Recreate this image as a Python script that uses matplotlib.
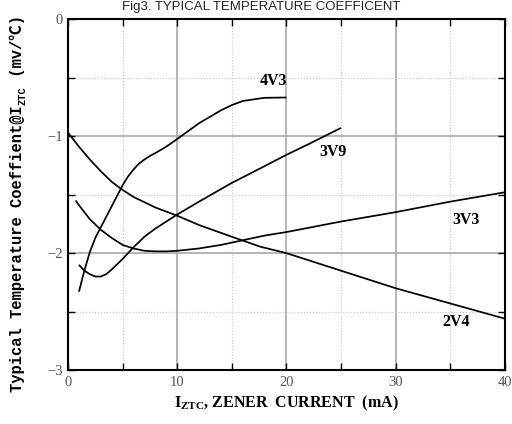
import matplotlib
matplotlib.use("Agg")
import matplotlib.pyplot as plt
from matplotlib.ticker import MultipleLocator

# ---- data ----
x_2v4 = [0, 1, 2, 3, 4, 5, 6, 8, 10, 12, 15, 17.6, 20, 25, 30, 35, 40]
y_2v4 = [-0.97, -1.09, -1.20, -1.30, -1.39, -1.46, -1.52, -1.61, -1.68, -1.76,
         -1.86, -1.945, -2.0, -2.15, -2.30, -2.43, -2.56]

x_3v3 = [0.7, 1, 2, 3, 4, 5, 6, 7, 8, 9, 10, 12, 14, 16, 18, 20, 25, 30, 35, 40]
y_3v3 = [-1.55, -1.59, -1.71, -1.80, -1.87, -1.93, -1.96, -1.98, -1.985, -1.985,
         -1.98, -1.96, -1.93, -1.89, -1.85, -1.82, -1.73, -1.65, -1.56, -1.48]

x_3v9 = [1, 1.5, 2, 2.5, 3, 3.5, 4, 5, 6, 7, 8, 10, 12, 15, 17.6, 20, 22, 25]
y_3v9 = [-2.10, -2.15, -2.18, -2.20, -2.20, -2.18, -2.14, -2.05, -1.95, -1.86,
         -1.79, -1.67, -1.56, -1.40, -1.276, -1.16, -1.07, -0.93]

x_4v3 = [1, 1.5, 2, 2.5, 3, 3.5, 4, 4.5, 5, 5.5, 6, 6.5, 7, 7.5, 8, 9, 10,
         12, 13, 14, 15, 16, 17.6, 18, 20]
y_4v3 = [-2.33, -2.15, -1.99, -1.87, -1.78, -1.69, -1.60, -1.51, -1.42, -1.345,
         -1.285, -1.235, -1.20, -1.17, -1.145, -1.09, -1.025, -0.89, -0.835,
         -0.78, -0.735, -0.70, -0.678, -0.673, -0.67]

series = [("2V4", x_2v4, y_2v4), ("3V3", x_3v3, y_3v3),
          ("3V9", x_3v9, y_3v9), ("4V3", x_4v3, y_4v3)]

labels = ["4V3", "3V9", "3V3", "2V4"]
label_x = [18.8, 24.3, 36.4, 35.5]
label_y = [-0.53, -1.135, -1.72, -2.59]

title = "Fig3. TYPICAL TEMPERATURE COEFFICENT"
ylabel_parts = ["Typical Temperature Coeffient@I", "ZTC", " (mv/℃)"]

W, H = 512, 424
fig = plt.figure(figsize=(W / 100, H / 100), dpi=100)
ax = fig.add_axes([0.1328, 0.127, 0.986 - 0.1328, 0.955 - 0.127])

for name, xs, ys in series:
    ax.plot(xs, ys, color="black", lw=1.25, solid_capstyle="butt",
            solid_joinstyle="round")

for t, lx, ly in zip(labels, label_x, label_y):
    ax.text(lx, ly, t, ha="center", va="center", fontsize=11.5,
            family="Liberation Serif", fontweight="bold")

ax.set_xlim(0, 40)
ax.set_ylim(-3, 0)
ax.xaxis.set_major_locator(MultipleLocator(10))
ax.xaxis.set_minor_locator(MultipleLocator(5))
ax.yaxis.set_major_locator(MultipleLocator(1))
ax.yaxis.set_minor_locator(MultipleLocator(0.5))

ax.grid(which="major", color="#a8a8a8", lw=1.2, ls="-")
ax.grid(which="minor", color="#c4c4c4", lw=0.8, ls=":")
ax.set_axisbelow(True)

ax.tick_params(which="both", direction="in", top=True, right=True,
               length=5, width=1, colors="black", labelcolor="#555555",
               labelsize=10.5, pad=4)
for lab in ax.get_xticklabels() + ax.get_yticklabels():
    lab.set_family("Liberation Serif")
for sp in ax.spines.values():
    sp.set_linewidth(1.5)

ax.set_xlabel(r"I$_{\mathregular{ZTC}}$, ZENER  CURRENT  (mA)",
              family="Liberation Serif", fontweight="bold", fontsize=11.5,
              labelpad=4)

fig.text(0.51, 0.997, title, ha="center", va="top", fontsize=9.5,
         family="Liberation Sans", color="#222222")

# ---- y label built from pieces (so ℃ can fall back to a CJK font) ----
fig.canvas.draw()
renderer = fig.canvas.get_renderer()
fam = ["Liberation Mono", "Noto Sans CJK SC"]
x_base = 22 / W          # baseline x position (figure fraction)
y_cur = 392.0            # starting pixel from top (text reads upward)
sizes = [11.2, 7.5, 11.2]
xoff = [0, 3, 0]
for part, fs, dx in zip(ylabel_parts, sizes, xoff):
    t = fig.text(x_base + dx / W, 1 - y_cur / H, part, rotation=90,
                 rotation_mode="anchor", ha="left", va="baseline",
                 fontsize=fs, family=fam, fontweight="bold")
    bb = t.get_window_extent(renderer)
    y_cur -= bb.height

fig.savefig("out.png", dpi=100)
